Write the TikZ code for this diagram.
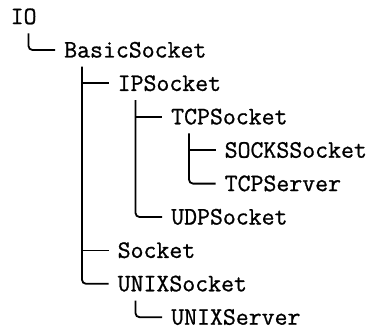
\documentclass[tikz,border=0pt]{standalone}
\usepackage{fontspec}
\newfontfamily\treefont{Latin Modern Mono}[FakeBold=0.9]
\begin{document}
\begin{tikzpicture}[x=1pt,y=-1pt]
\tikzset{
 item/.style={anchor=west, inner sep=0pt, text height=15pt, text depth=0pt, font=\treefont\fontsize{25.1}{30}\selectfont},
 conn/.style={line width=1.8pt, line cap=butt},
 lastconn/.style={conn, rounded corners=4pt},
}
\useasboundingbox (0,0) rectangle (374,331);
% nodes
\node[item] (IO) at (10.5,16.6) {IO};
\node[item] (Basic) at (64,50) {BasicSocket};
\node[item] (IP) at (117.5,83.4) {IPSocket};
\node[item] (TCP) at (171,116.8) {TCPSocket};
\node[item] (SOCKS) at (224.5,150.2) {SOCKSSocket};
\node[item] (TCPServer) at (224.5,183.6) {TCPServer};
\node[item] (UDP) at (171,217) {UDPSocket};
\node[item] (Socket) at (117.5,250.4) {Socket};
\node[item] (UNIXSocket) at (117.5,283.8) {UNIXSocket};
\node[item] (UNIXServer) at (171,317.2) {UNIXServer};
% trunk starts
\coordinate (sIO) at ([shift={(18pt,-9pt)}]IO.south west);
\coordinate (sBasic) at ([shift={(18pt,-9pt)}]Basic.south west);
\coordinate (sIP) at ([shift={(18pt,-9pt)}]IP.south west);
\coordinate (sTCP) at ([shift={(18pt,-9pt)}]TCP.south west);
\coordinate (sUNIX) at ([shift={(18pt,-9pt)}]UNIXSocket.south west);
% connectors
\draw[lastconn] (sIO) |- ([xshift=-9pt]Basic.west);
\draw[conn] (sBasic |- IP.west) -- ([xshift=-9pt]IP.west);
\draw[conn] (sBasic |- Socket.west) -- ([xshift=-9pt]Socket.west);
\draw[lastconn] (sBasic) |- ([xshift=-9pt]UNIXSocket.west);
\draw[conn] (sIP |- TCP.west) -- ([xshift=-9pt]TCP.west);
\draw[lastconn] (sIP) |- ([xshift=-9pt]UDP.west);
\draw[conn] (sTCP |- SOCKS.west) -- ([xshift=-9pt]SOCKS.west);
\draw[lastconn] (sTCP) |- ([xshift=-9pt]TCPServer.west);
\draw[lastconn] (sUNIX) |- ([xshift=-9pt]UNIXServer.west);
\end{tikzpicture}
\end{document}
